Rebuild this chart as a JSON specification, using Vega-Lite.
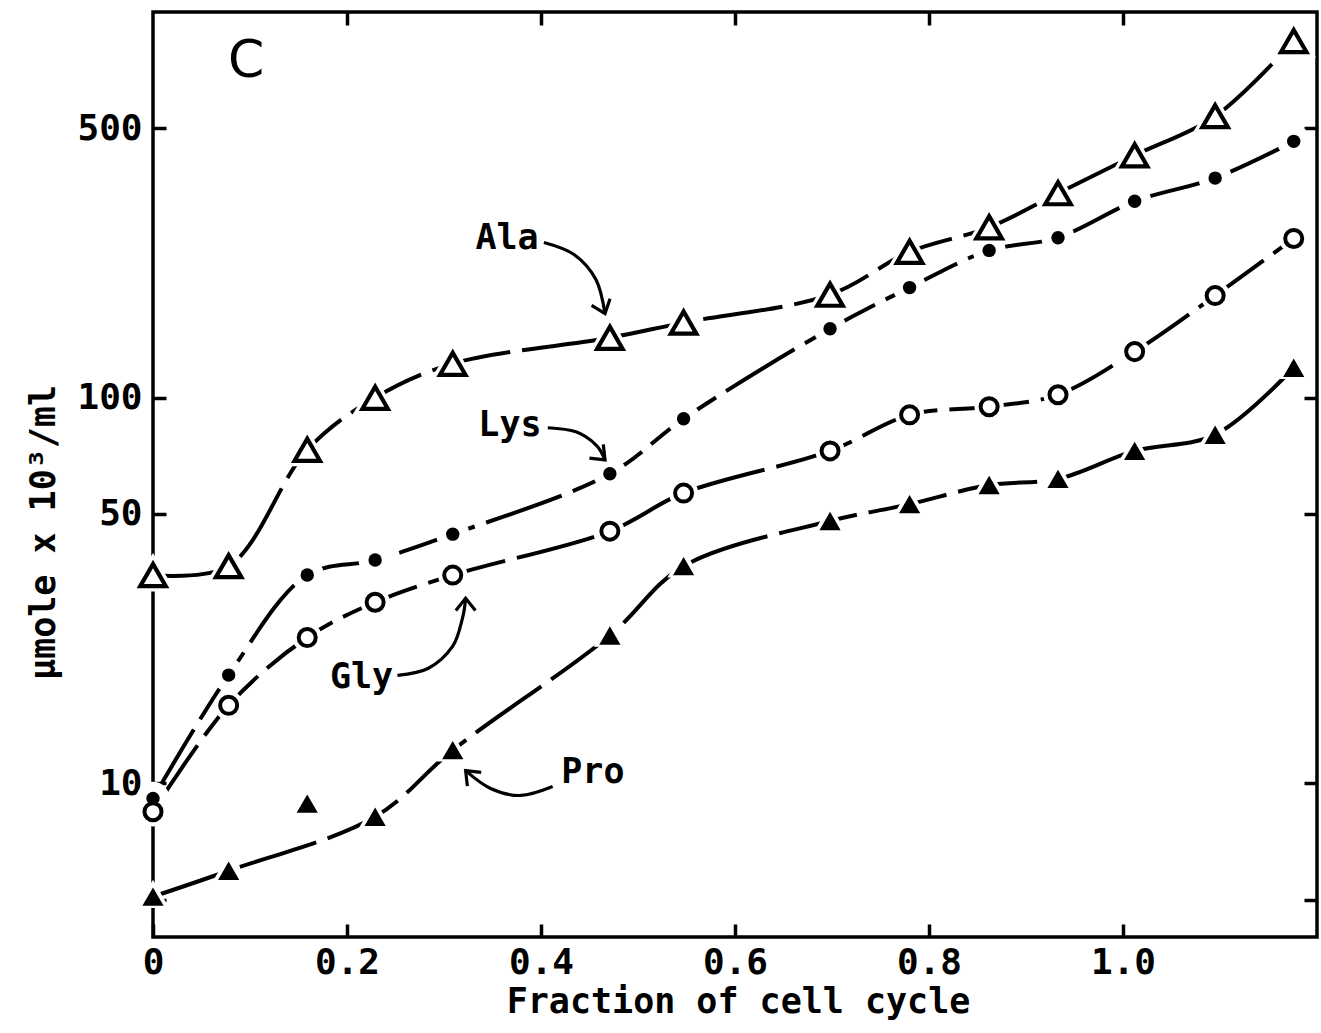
{
  "$schema": "https://vega.github.io/schema/vega-lite/v6.json",
  "width": 1164,
  "height": 925,
  "autosize": {"type": "none"},
  "padding": {"left": 153, "top": 12, "right": 4, "bottom": 96},
  "background": "white",
  "config": {
    "view": {"stroke": "black", "strokeWidth": 3.5},
    "font": "DejaVu Sans Mono",
    "axis": {
      "grid": false, "domain": false, "tickColor": "black", "tickWidth": 3.5, "tickSize": -13,
      "labelColor": "black", "labelFont": "DejaVu Sans Mono", "labelFontSize": 36, "labelFontWeight": "bold", "labelFlush": false,
      "titleFont": "DejaVu Sans Mono", "titleFontSize": 35, "titleFontWeight": "bold", "titleColor": "black"
    }
  },
  "datasets": {
    "pts": [
      {"series": "Ala", "x": 0, "y": 34.7}, {"series": "Ala", "x": 0.078, "y": 36.6}, {"series": "Ala", "x": 0.159, "y": 73.3},
      {"series": "Ala", "x": 0.229, "y": 100}, {"series": "Ala", "x": 0.309, "y": 122.5}, {"series": "Ala", "x": 0.471, "y": 143},
      {"series": "Ala", "x": 0.547, "y": 156.6}, {"series": "Ala", "x": 0.698, "y": 185}, {"series": "Ala", "x": 0.78, "y": 239},
      {"series": "Ala", "x": 0.862, "y": 276.5}, {"series": "Ala", "x": 0.933, "y": 339}, {"series": "Ala", "x": 1.012, "y": 425},
      {"series": "Ala", "x": 1.095, "y": 537}, {"series": "Ala", "x": 1.176, "y": 841},
      {"series": "Lys", "x": 0, "y": 9.15}, {"series": "Lys", "x": 0.078, "y": 19.1}, {"series": "Lys", "x": 0.159, "y": 34.7},
      {"series": "Lys", "x": 0.229, "y": 37.95}, {"series": "Lys", "x": 0.309, "y": 44.3}, {"series": "Lys", "x": 0.471, "y": 63.5},
      {"series": "Lys", "x": 0.547, "y": 88.2}, {"series": "Lys", "x": 0.698, "y": 151}, {"series": "Lys", "x": 0.78, "y": 193},
      {"series": "Lys", "x": 0.862, "y": 241}, {"series": "Lys", "x": 0.933, "y": 260}, {"series": "Lys", "x": 1.012, "y": 323},
      {"series": "Lys", "x": 1.095, "y": 371}, {"series": "Lys", "x": 1.176, "y": 462},
      {"series": "Gly", "x": 0, "y": 8.45}, {"series": "Gly", "x": 0.078, "y": 15.95}, {"series": "Gly", "x": 0.159, "y": 23.9},
      {"series": "Gly", "x": 0.229, "y": 29.5}, {"series": "Gly", "x": 0.309, "y": 34.7}, {"series": "Gly", "x": 0.471, "y": 45.1},
      {"series": "Gly", "x": 0.547, "y": 56.6}, {"series": "Gly", "x": 0.698, "y": 72.8}, {"series": "Gly", "x": 0.78, "y": 90.3},
      {"series": "Gly", "x": 0.862, "y": 94.8}, {"series": "Gly", "x": 0.933, "y": 101.8}, {"series": "Gly", "x": 1.012, "y": 131.7},
      {"series": "Gly", "x": 1.095, "y": 184}, {"series": "Gly", "x": 1.176, "y": 258.8},
      {"series": "Pro", "x": 0, "y": 5.09}, {"series": "Pro", "x": 0.078, "y": 5.94}, {"series": "Pro", "x": 0.159, "y": 8.87},
      {"series": "Pro", "x": 0.229, "y": 8.2}, {"series": "Pro", "x": 0.309, "y": 12.2}, {"series": "Pro", "x": 0.471, "y": 24.2},
      {"series": "Pro", "x": 0.547, "y": 36.6}, {"series": "Pro", "x": 0.698, "y": 47.9}, {"series": "Pro", "x": 0.78, "y": 53.0},
      {"series": "Pro", "x": 0.862, "y": 59.4}, {"series": "Pro", "x": 0.933, "y": 61.6}, {"series": "Pro", "x": 1.012, "y": 72.8},
      {"series": "Pro", "x": 1.095, "y": 80.2}, {"series": "Pro", "x": 1.176, "y": 119.6}
    ],
    "arrows": [
      {"arrow": "Ala", "i": 0, "x": 0.403, "y": 252.7}, {"arrow": "Ala", "i": 1, "x": 0.434, "y": 235.2},
      {"arrow": "Ala", "i": 2, "x": 0.4566, "y": 202.5}, {"arrow": "Ala", "i": 3, "x": 0.466, "y": 165.3},
      {"arrow": "Lys", "i": 0, "x": 0.407, "y": 83.6}, {"arrow": "Lys", "i": 1, "x": 0.436, "y": 81.6},
      {"arrow": "Lys", "i": 2, "x": 0.4566, "y": 75.5}, {"arrow": "Lys", "i": 3, "x": 0.466, "y": 69.0},
      {"arrow": "Gly", "i": 0, "x": 0.252, "y": 19.07}, {"arrow": "Gly", "i": 1, "x": 0.284, "y": 19.9},
      {"arrow": "Gly", "i": 2, "x": 0.309, "y": 22.7}, {"arrow": "Gly", "i": 3, "x": 0.319, "y": 26.8},
      {"arrow": "Gly", "i": 4, "x": 0.3223, "y": 30.2},
      {"arrow": "Pro", "i": 0, "x": 0.412, "y": 9.82}, {"arrow": "Pro", "i": 1, "x": 0.379, "y": 9.31},
      {"arrow": "Pro", "i": 2, "x": 0.348, "y": 9.71}, {"arrow": "Pro", "i": 3, "x": 0.3223, "y": 10.8}
    ],
    "heads": [
      {"arrow": "Ala", "x": 0.466, "y": 165.3},
      {"arrow": "Lys", "x": 0.466, "y": 69.0},
      {"arrow": "Gly", "x": 0.3223, "y": 30.2},
      {"arrow": "Pro", "x": 0.3223, "y": 10.8}
    ],
    "labels": [
      {"label": "Ala", "x": 0.365, "y": 242.3},
      {"label": "Lys", "x": 0.368, "y": 79.7},
      {"label": "Gly", "x": 0.215, "y": 17.65},
      {"label": "Pro", "x": 0.4535, "y": 10.0}
    ],
    "panel": [
      {"label": "C", "x": 0.096, "y": 677.6}
    ]
  },
  "resolve": {"axis": {"x": "independent", "y": "independent"}},
  "layer": [
    {
      "data": {"name": "pts"},
      "transform": [{"filter": "datum.series != 'Pro'"}],
      "mark": {"type": "line", "interpolate": "catmull-rom", "color": "black", "strokeWidth": 4, "strokeDash": [80, 12]},
      "encoding": {
        "x": {"field": "x", "type": "quantitative", "scale": {"domain": [0, 1.2], "nice": false, "zero": false},
          "axis": {"orient": "bottom", "values": [0, 0.2, 0.4, 0.6, 0.8, 1.0],
            "labelExpr": "datum.value == 0 ? '0' : format(datum.value, '.1f')",
            "labelPadding": 21, "labelBaseline": "top",
            "title": "Fraction of cell cycle", "titleX": 585, "titleY": 75, "titleBaseline": "alphabetic", "titleAlign": "center", "titleAnchor": "middle"}},
        "y": {"field": "y", "type": "quantitative", "scale": {"type": "log", "domain": [4, 1000], "nice": false},
          "axis": {"orient": "left", "values": [5, 10, 50, 100, 500],
            "labelExpr": "datum.value == 5 ? '' : format(datum.value, 'd')",
            "labelPadding": 24,
            "title": "μmole x 10³/ml", "titleX": -99, "titleY": 520, "titleAngle": -90, "titleBaseline": "alphabetic", "titleAlign": "center", "titleAnchor": "middle"}},
        "detail": {"field": "series"}
      }
    },
    {
      "data": {"name": "pts"},
      "transform": [{"filter": "datum.series == 'Pro' && datum.x != 0.159"}],
      "mark": {"type": "line", "interpolate": "catmull-rom", "color": "black", "strokeWidth": 4, "strokeDash": [80, 12]},
      "encoding": {
        "x": {"field": "x", "type": "quantitative", "axis": null},
        "y": {"field": "y", "type": "quantitative", "axis": null}
      }
    },
    {
      "data": {"name": "pts"},
      "mark": {"type": "point", "filled": true, "fill": "white", "stroke": "white", "strokeWidth": 11, "opacity": 1},
      "encoding": {
        "x": {"field": "x", "type": "quantitative",
          "axis": {"orient": "top", "values": [0.2, 0.4, 0.6, 0.8, 1.0], "labels": false, "title": null}},
        "y": {"field": "y", "type": "quantitative",
          "axis": {"orient": "right", "values": [5, 10, 50, 100, 500], "labels": false, "title": null}},
        "shape": {"field": "series", "type": "nominal", "scale": {"domain": ["Ala", "Lys", "Gly", "Pro"], "range": ["triangle-up", "circle", "circle", "triangle-up"]}, "legend": null},
        "size": {"field": "series", "type": "ordinal", "scale": {"domain": ["Ala", "Lys", "Gly", "Pro"], "range": [650, 180, 300, 450]}, "legend": null}
      }
    },
    {
      "data": {"name": "pts"},
      "transform": [{"filter": "datum.series == 'Ala'"}],
      "mark": {"type": "point", "shape": "triangle-up", "filled": true, "fill": "white", "stroke": "black", "strokeWidth": 4.2, "size": 650, "opacity": 1},
      "encoding": {
        "x": {"field": "x", "type": "quantitative", "axis": null},
        "y": {"field": "y", "type": "quantitative", "axis": null}
      }
    },
    {
      "data": {"name": "pts"},
      "transform": [{"filter": "datum.series == 'Gly'"}],
      "mark": {"type": "point", "shape": "circle", "filled": true, "fill": "white", "stroke": "black", "strokeWidth": 4, "size": 290, "opacity": 1},
      "encoding": {
        "x": {"field": "x", "type": "quantitative", "axis": null},
        "y": {"field": "y", "type": "quantitative", "axis": null}
      }
    },
    {
      "data": {"name": "pts"},
      "transform": [{"filter": "datum.series == 'Lys'"}],
      "mark": {"type": "point", "shape": "circle", "filled": true, "color": "black", "size": 180, "opacity": 1},
      "encoding": {
        "x": {"field": "x", "type": "quantitative", "axis": null},
        "y": {"field": "y", "type": "quantitative", "axis": null}
      }
    },
    {
      "data": {"name": "pts"},
      "transform": [{"filter": "datum.series == 'Pro'"}],
      "mark": {"type": "point", "shape": "triangle-up", "filled": true, "color": "black", "size": 450, "opacity": 1},
      "encoding": {
        "x": {"field": "x", "type": "quantitative", "axis": null},
        "y": {"field": "y", "type": "quantitative", "axis": null}
      }
    },
    {
      "data": {"name": "arrows"},
      "mark": {"type": "line", "interpolate": "cardinal", "color": "black", "strokeWidth": 3.2},
      "encoding": {
        "x": {"field": "x", "type": "quantitative", "axis": null},
        "y": {"field": "y", "type": "quantitative", "axis": null},
        "detail": {"field": "arrow"},
        "order": {"field": "i", "type": "quantitative"}
      }
    },
    {
      "data": {"name": "heads"},
      "transform": [{"filter": "datum.arrow == 'Ala'"}],
      "mark": {"type": "point", "shape": "M-0.8,-1L0,0L0.8,-1", "filled": false, "stroke": "black", "strokeWidth": 3.2, "size": 600, "angle": -20, "opacity": 1},
      "encoding": {
        "x": {"field": "x", "type": "quantitative", "axis": null},
        "y": {"field": "y", "type": "quantitative", "axis": null}
      }
    },
    {
      "data": {"name": "heads"},
      "transform": [{"filter": "datum.arrow == 'Lys'"}],
      "mark": {"type": "point", "shape": "M-0.8,-1L0,0L0.8,-1", "filled": false, "stroke": "black", "strokeWidth": 3.2, "size": 600, "angle": -45, "opacity": 1},
      "encoding": {
        "x": {"field": "x", "type": "quantitative", "axis": null},
        "y": {"field": "y", "type": "quantitative", "axis": null}
      }
    },
    {
      "data": {"name": "heads"},
      "transform": [{"filter": "datum.arrow == 'Gly'"}],
      "mark": {"type": "point", "shape": "M-0.8,-1L0,0L0.8,-1", "filled": false, "stroke": "black", "strokeWidth": 3.2, "size": 600, "angle": 180, "opacity": 1},
      "encoding": {
        "x": {"field": "x", "type": "quantitative", "axis": null},
        "y": {"field": "y", "type": "quantitative", "axis": null}
      }
    },
    {
      "data": {"name": "heads"},
      "transform": [{"filter": "datum.arrow == 'Pro'"}],
      "mark": {"type": "point", "shape": "M-0.8,-1L0,0L0.8,-1", "filled": false, "stroke": "black", "strokeWidth": 3.2, "size": 600, "angle": 135, "opacity": 1},
      "encoding": {
        "x": {"field": "x", "type": "quantitative", "axis": null},
        "y": {"field": "y", "type": "quantitative", "axis": null}
      }
    },
    {
      "data": {"name": "labels"},
      "mark": {"type": "text", "font": "DejaVu Sans Mono", "fontSize": 35, "fontWeight": "bold", "align": "center", "baseline": "alphabetic", "color": "black"},
      "encoding": {
        "x": {"field": "x", "type": "quantitative", "axis": null},
        "y": {"field": "y", "type": "quantitative", "axis": null},
        "text": {"field": "label"}
      }
    },
    {
      "data": {"name": "panel"},
      "mark": {"type": "text", "font": "DejaVu Sans", "fontSize": 52, "align": "center", "baseline": "alphabetic", "color": "black"},
      "encoding": {
        "x": {"field": "x", "type": "quantitative", "axis": null},
        "y": {"field": "y", "type": "quantitative", "axis": null},
        "text": {"field": "label"}
      }
    }
  ]
}
